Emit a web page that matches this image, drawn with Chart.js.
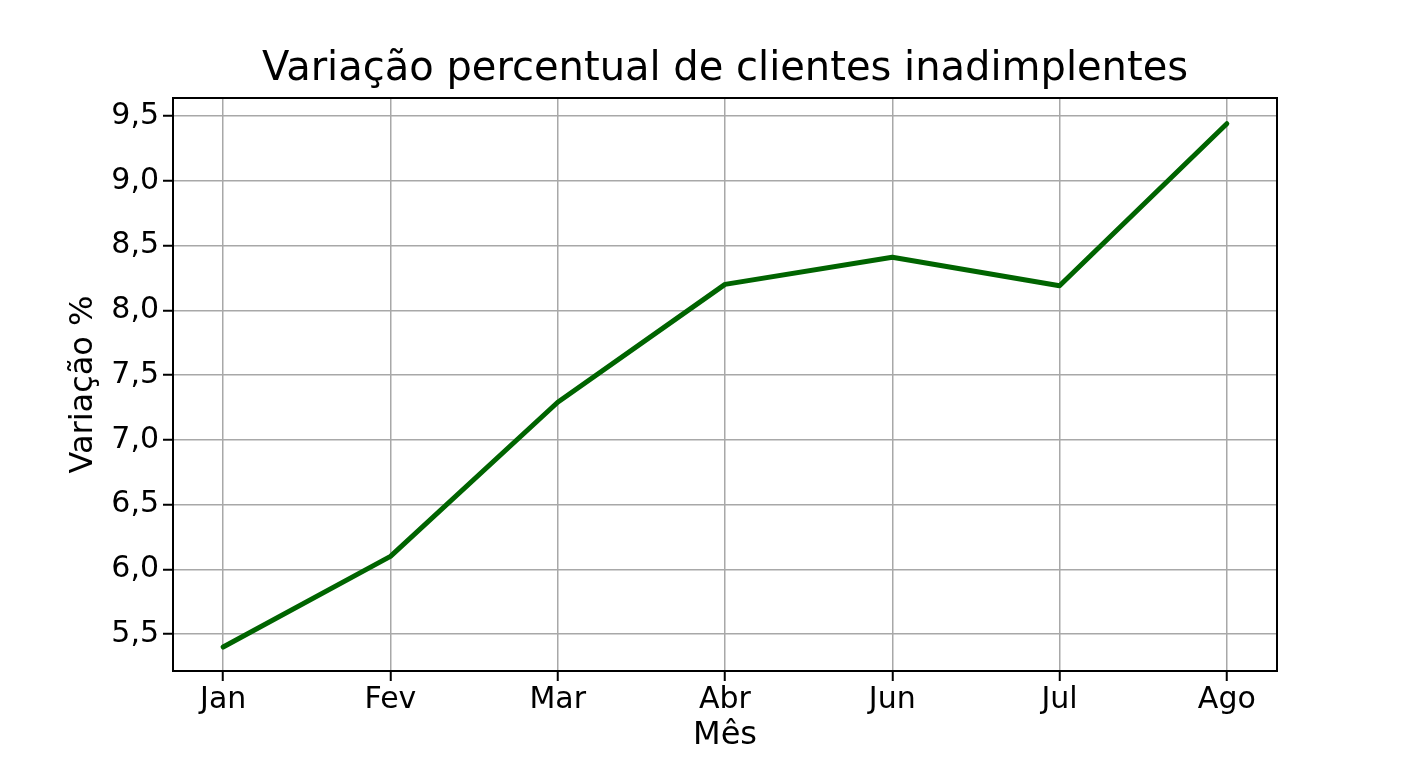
<!DOCTYPE html>
<html>
<head>
<meta charset="utf-8">
<script src="https://cdn.jsdelivr.net/npm/chart.js@4/dist/chart.umd.min.js"></script>
<style>
  html, body { margin: 0; padding: 0; background: #fff; }
  #wrap { width: 1408px; height: 768px; }
</style>
</head>
<body>
<div id="wrap"><canvas id="grafico"></canvas></div>
<script>
// dados
var meses = ['Jan', 'Fev', 'Mar', 'Abr', 'Jun', 'Jul', 'Ago'];
var variacao = [5.40, 6.10, 7.29, 8.20, 8.41, 8.19, 9.44];
var yTicks = [5.5, 6.0, 6.5, 7.0, 7.5, 8.0, 8.5, 9.0, 9.5];

var fonte = "'DejaVu Sans', sans-serif";

// moldura em volta da area do grafico (estilo matplotlib)
var moldura = {
    id: 'moldura',
    afterDatasetsDraw: function (chart) {
        var a = chart.chartArea;
        var ctx = chart.ctx;
        ctx.save();
        ctx.strokeStyle = '#000';
        ctx.lineWidth = 2;
        ctx.strokeRect(a.left, a.top, a.right - a.left, a.bottom - a.top);
        ctx.restore();
    }
};

var pontos = variacao.map(function (v, i) { return { x: i, y: v }; });

var ctx = document.getElementById('grafico').getContext('2d');
window.myLine = new Chart(ctx, {
    type: 'line',
    data: {
        datasets: [{
            label: 'Variação',
            data: pontos,
            borderColor: '#006400',
            borderWidth: 5,
            pointRadius: 0,
            tension: 0,
            fill: false,
            borderCapStyle: 'round',
            borderJoinStyle: 'round'
        }]
    },
    options: {
        responsive: true,
        maintainAspectRatio: false,
        animation: false,
        devicePixelRatio: 1,
        layout: { padding: { left: 0, right: 131, top: 0, bottom: 0 } },
        plugins: {
            legend: { display: false },
            tooltip: { enabled: false },
            title: {
                display: true,
                text: 'Variação percentual de clientes inadimplentes',
                color: '#000',
                fullSize: false,
                font: { family: fonte, size: 40, weight: 'normal', lineHeight: 1.2 },
                padding: { top: 46, bottom: 4 }
            }
        },
        scales: {
            x: {
                type: 'linear',
                min: -0.3,
                max: 6.3,
                afterBuildTicks: function (scale) {
                    scale.ticks = meses.map(function (m, i) { return { value: i }; });
                },
                afterFit: function (scale) { scale.height = 97; },
                ticks: {
                    color: '#000',
                    padding: 1,
                    maxRotation: 0,
                    autoSkip: false,
                    font: { family: fonte, size: 30 },
                    callback: function (v) { return meses[v]; }
                },
                grid: {
                    color: '#a8a8a8',
                    lineWidth: 1.5,
                    tickColor: '#000',
                    tickWidth: 2,
                    tickLength: 10
                },
                border: { display: false },
                title: {
                    display: true,
                    text: 'Mês',
                    color: '#000',
                    font: { family: fonte, size: 32, lineHeight: 1.2 },
                    padding: { top: 0, bottom: 13.2 }
                }
            },
            y: {
                min: 5.215,
                max: 9.639,
                afterBuildTicks: function (scale) {
                    scale.ticks = yTicks.map(function (v) { return { value: v }; });
                },
                afterFit: function (scale) { scale.width = 173; },
                ticks: {
                    color: '#000',
                    padding: 4,
                    font: { family: fonte, size: 30 },
                    callback: function (v) { return v.toFixed(1).replace('.', ','); }
                },
                grid: {
                    color: '#a8a8a8',
                    lineWidth: 1.5,
                    tickColor: '#000',
                    tickWidth: 2,
                    tickLength: 10
                },
                border: { display: false },
                title: {
                    display: true,
                    text: 'Variação %',
                    color: '#000',
                    font: { family: fonte, size: 32, lineHeight: 1.2 },
                    padding: { top: 64.8, bottom: 0 }
                }
            }
        }
    },
    plugins: [moldura]
});
</script>
</body>
</html>
